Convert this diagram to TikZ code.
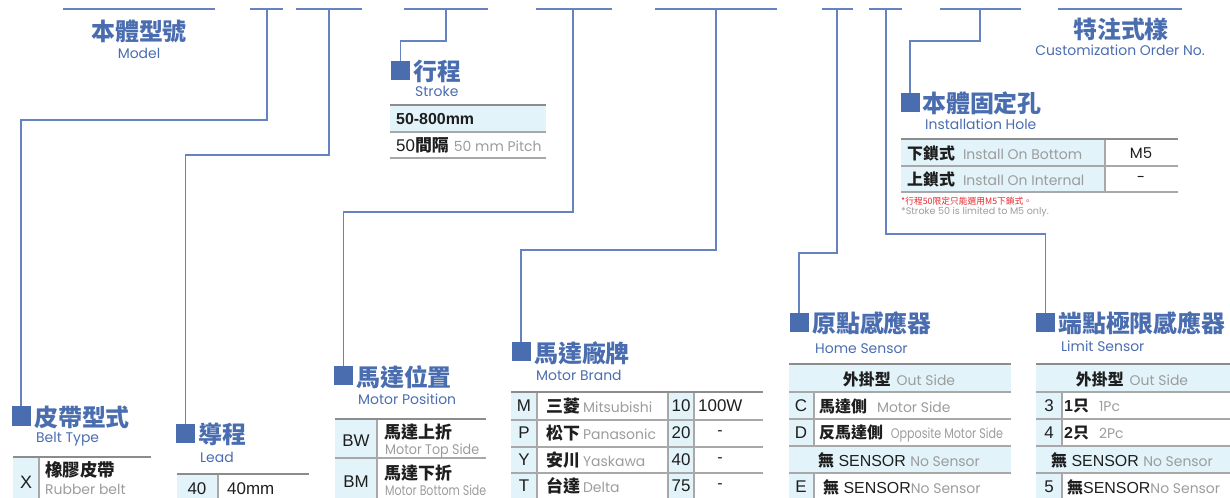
\documentclass[tikz,border=0pt]{standalone}
\usepackage{fontspec}
\usepackage{graphicx}
\setmainfont{Liberation Sans}
\newfontfamily\zhf{Noto Sans CJK TC}
\newfontfamily\enf{Poppins}
\definecolor{blueT}{HTML}{4A6DB0}
\definecolor{lineC}{HTML}{6583C0}
\definecolor{fillC}{HTML}{E2F3FA}
\definecolor{gridC}{HTML}{A8A8A8}
\definecolor{topC}{HTML}{8C8C8C}
\definecolor{grayT}{HTML}{9C9C9C}
\definecolor{blackT}{HTML}{1E1E1E}
\definecolor{redT}{HTML}{E8252B}
\newcommand\zhb[1]{{\zhf\bfseries #1}}
\newcommand\engray[1]{{\enf\mdseries\fontsize{14}{16}\selectfont\color{grayT}#1}}
\newcommand\engrayw[2]{\resizebox{#1}{\height}{\engray{#2}}}
\begin{document}
\begin{tikzpicture}[x=1bp,y=-1bp,
  sq/.style={fill=blueT,minimum size=19bp,inner sep=0pt,draw=none},
  ttl/.style={font=\zhf\bfseries\fontsize{24}{26}\selectfont,text=blueT,inner sep=0pt,anchor=west},
  ttlc/.style={font=\zhf\bfseries\fontsize{24}{26}\selectfont,text=blueT,inner sep=0pt},
  sub/.style={font=\enf\fontsize{14}{16}\selectfont,text=blueT,inner sep=0pt,anchor=west},
  subc/.style={font=\enf\fontsize{14}{16}\selectfont,text=blueT,inner sep=0pt},
  conn/.style={draw=lineC,line width=1.5bp},
  grid/.style={draw=gridC,line width=1.2bp},
  topl/.style={draw=topC,line width=1.5bp},
  cell/.style={font=\fontsize{16}{18}\selectfont,text=blackT,inner sep=0pt},
  cellw/.style={cell,anchor=west},
  zh/.style={font=\zhf\bfseries\fontsize{16}{18}\selectfont,text=blackT,inner sep=0pt,anchor=west}]
\useasboundingbox (0,0) rectangle (1230,498);

% ---------- top segments ----------
\coordinate (a1) at (63,9);   \coordinate (e1) at (215,9);
\coordinate (a2) at (250,9);  \coordinate (e2) at (283,9);  \coordinate (b2) at (267,9);
\coordinate (a3) at (296,9);  \coordinate (e3) at (362,9);  \coordinate (b3) at (329,9);
\coordinate (a4) at (404,9);  \coordinate (e4) at (488,9);  \coordinate (b4) at (446,9);
\coordinate (a5) at (536,9);  \coordinate (e5) at (612,9);  \coordinate (b5) at (573,9);
\coordinate (a6) at (655,9);  \coordinate (e6) at (777,9);  \coordinate (b6) at (716,9);
\coordinate (a7) at (822,9);  \coordinate (e7) at (853,9);  \coordinate (b7) at (837,9);
\coordinate (a8) at (869,9);  \coordinate (e8) at (902,9);  \coordinate (b8) at (886,9);
\coordinate (a9) at (940,9);  \coordinate (e9) at (1021,9); \coordinate (b9) at (980,9);
\coordinate (a10) at (1058,9); \coordinate (e10) at (1182,9);
\foreach \i in {1,...,10} {\draw[conn] (a\i) -- (e\i);}

% ---------- squares ----------
\node[sq] (sqBelt)  at (21,416) {};
\node[sq] (sqLead)  at (185.5,433.5) {};
\node[sq] (sqStroke) at (400.5,70.5) {};
\node[sq] (sqPos)   at (343.5,375.5) {};
\node[sq] (sqBrand) at (521,352) {};
\node[sq] (sqHome)  at (799,322.5) {};
\node[sq] (sqLim)   at (1045.5,322.5) {};
\node[sq] (sqInst)  at (910,102.5) {};

% ---------- connectors ----------
\draw[conn] (b2) -- ++(0,111) -| (sqBelt.north);
\draw[conn] (b3) -- ++(0,146) -| (sqLead.north);
\draw[conn] (b4) -- ++(0,32) -| (sqStroke.north);
\draw[conn] (b5) -- ++(0,203) -| (sqPos.north);
\draw[conn] (b6) -- ++(0,241) -| (sqBrand.north);
\draw[conn] (b7) -- ++(0,244) -| (sqHome.north);
\draw[conn] (b8) -- ++(0,225) -| (sqLim.north);
\draw[conn] (b9) -- ++(0,32) -| (sqInst.north);

% ---------- titles ----------
\node[ttlc] (tModel) at (139,31) {本體型號};
\node[subc] (sModel) at (139,53) {Model};
\node[ttlc] (tCust) at (1121,29) {特注式樣};
\node[subc] (sCust) at (1120,50) {Customization Order No.};
\node[ttl] (tStroke) at (413,71) {行程};
\node[sub] (sStroke) at (415,91) {Stroke};
\node[ttl] (tInst) at (922,103) {本體固定孔};
\node[sub] (sInst) at (925,124) {Installation Hole};
\node[ttl] (tBelt) at (34,417) {皮帶型式};
\node[sub] (sBelt) at (36,439) {Belt Type};
\node[ttl] (tLead) at (198,434) {導程};
\node[sub] (sLead) at (200,457) {Lead};
\node[ttl] (tPos) at (356,377) {馬達位置};
\node[sub] (sPos) at (358,399) {Motor Position};
\node[ttl] (tBrand) at (534,353) {馬達廠牌};
\node[sub] (sBrand) at (536,375) {Motor Brand};
\node[ttl] (tHome) at (812,323) {原點感應器};
\node[sub] (sHome) at (815,349) {Home Sensor};
\node[ttl] (tLim) at (1058,323) {端點極限感應器};
\node[sub] (sLim) at (1061,346) {Limit Sensor};

% ---------- stroke table ----------
\fill[fillC] (390,105) rectangle (546,132);
\draw[grid] (390,132) -- (546,132) (390,158) -- (546,158);
\draw[topl] (390,105) -- (546,105);
\node[cellw,font=\bfseries\fontsize{16}{18}\selectfont] (st1) at (396,119) {50-800mm};
\node[cellw,font=\fontsize{17}{19}\selectfont] (st2) at (396,145) {50\zhb{間隔}\hspace{5bp}\engray{50 mm Pitch}};

% ---------- installation table ----------
\fill[fillC] (901,139) rectangle (1105,192);
\draw[grid] (901,166) -- (1178,166) (901,192) -- (1178,192) (1105,139) -- (1105,192);
\draw[topl] (901,139) -- (1178,139);
\node[zh] (in1) at (907,153) {下鎖式\hspace{8bp}\engray{Install On Bottom}};
\node[zh] (in2) at (907,179) {上鎖式\hspace{8bp}\engray{Install On Internal}};
\node[cell,font=\enf\fontsize{15}{17}\selectfont] (in1v) at (1141,153) {M5};
\node[cell,font=\enf\fontsize{15}{17}\selectfont] (in2v) at (1141,179) {-};
\node[anchor=west,inner sep=0pt,text=redT,font=\zhf\fontsize{8.8}{10}\selectfont] (note1) at (901,201) {*行程50限定只能選用M5下鎖式。};
\node[anchor=west,inner sep=0pt,text=grayT,font=\enf\fontsize{9.6}{11}\selectfont] (note2) at (901,212) {*Stroke 50 is limited to M5 only.};

% ---------- belt type table ----------
\fill[fillC] (13,457) rectangle (39,498);
\draw[grid] (39,457) -- (39,498);
\draw[topl] (13,457) -- (151,457);
\node[cell,font=\fontsize{18}{20}\selectfont] (bx) at (26,482) {X};
\node[zh,font=\zhf\bfseries\fontsize{17.5}{19}\selectfont] (bz) at (45,470) {橡膠皮帶};
\node[anchor=west,inner sep=0pt] (be) at (45,489) {\engray{Rubber belt}};

% ---------- lead table ----------
\fill[fillC] (177,474) rectangle (218,498);
\draw[grid] (218,474) -- (218,498);
\draw[topl] (177,474) -- (309,474);
\node[cell,font=\fontsize{17}{19}\selectfont] (l40) at (197,489) {40};
\node[cellw,font=\fontsize{17}{19}\selectfont] (l40mm) at (227,489) {40mm};

% ---------- motor position table ----------
\fill[fillC] (335,419) rectangle (377,498);
\draw[grid] (377,419) -- (377,498) (335,458) -- (486,458);
\draw[topl] (335,419) -- (486,419);
\node[cell,font=\fontsize{17}{19}\selectfont] (pBW) at (356,441) {BW};
\node[cell,font=\fontsize{17}{19}\selectfont] (pBM) at (356,482) {BM};
\node[zh,font=\zhf\bfseries\fontsize{17}{19}\selectfont] (p1z) at (384,432) {馬達上折};
\node[anchor=west,inner sep=0pt] (p1e) at (385,451) {\engrayw{94bp}{Motor Top Side}};
\node[zh,font=\zhf\bfseries\fontsize{17}{19}\selectfont] (p2z) at (384,473) {馬達下折};
\node[anchor=west,inner sep=0pt] (p2e) at (385,490) {\engrayw{101bp}{Motor Bottom Side}};

% ---------- motor brand table ----------
\fill[fillC] (511,392) rectangle (537,498);
\fill[fillC] (668,392) rectangle (694,498);
\draw[grid] (511,420) -- (763,420) (511,447) -- (763,447) (511,473) -- (763,473)
  (537,392) -- (537,498) (668,392) -- (668,498) (694,392) -- (694,498);
\draw[topl] (511,392) -- (763,392);
\node[cell,font=\fontsize{17}{19}\selectfont] (mM) at (524,406) {M};
\node[cell,font=\fontsize{17}{19}\selectfont] (mP) at (524,433) {P};
\node[cell,font=\fontsize{17}{19}\selectfont] (mY) at (524,460) {Y};
\node[cell,font=\fontsize{17}{19}\selectfont] (mT) at (524,486) {T};
\node[zh,font=\zhf\bfseries\fontsize{17}{19}\selectfont] (m1) at (546,406) {三菱\hspace{3bp}\engray{Mitsubishi}};
\node[zh,font=\zhf\bfseries\fontsize{17}{19}\selectfont] (m2) at (546,433) {松下\hspace{3bp}\engray{Panasonic}};
\node[zh,font=\zhf\bfseries\fontsize{17}{19}\selectfont] (m3) at (546,460) {安川\hspace{3bp}\engray{Yaskawa}};
\node[zh,font=\zhf\bfseries\fontsize{17}{19}\selectfont] (m4) at (546,486) {台達\hspace{3bp}\engray{Delta}};
\node[cell,font=\fontsize{17}{19}\selectfont] (w1) at (681,406) {10};
\node[cell,font=\fontsize{17}{19}\selectfont] (w2) at (681,433) {20};
\node[cell,font=\fontsize{17}{19}\selectfont] (w3) at (681,460) {40};
\node[cell,font=\fontsize{17}{19}\selectfont] (w4) at (681,486) {75};
\node[cellw,font=\fontsize{17}{19}\selectfont] (v1) at (698,406) {100W};
\node[cell] (v2) at (720,433) {-};
\node[cell] (v3) at (720,460) {-};
\node[cell] (v4) at (720,486) {-};

% ---------- home sensor table ----------
\fill[fillC] (789,364) rectangle (1011,392);
\fill[fillC] (789,446) rectangle (1011,473);
\fill[fillC] (789,392) rectangle (814,446);
\fill[fillC] (789,473) rectangle (814,498);
\draw[grid] (789,392) -- (1011,392) (789,419) -- (1011,419) (789,446) -- (1011,446) (789,473) -- (1011,473)
  (814,392) -- (814,446) (814,473) -- (814,498);
\draw[topl] (789,364) -- (1011,364);
\node[cell] (h0) at (899,379) {\zhb{外掛型}\hspace{6bp}\engray{Out Side}};
\node[cell,font=\fontsize{17}{19}\selectfont] (hC) at (801,406) {C};
\node[zh] (h1) at (819,406) {馬達側\hspace{10bp}\engray{Motor Side}};
\node[cell,font=\fontsize{17}{19}\selectfont] (hD) at (801,433) {D};
\node[zh] (h2) at (819,433) {反馬達側\hspace{8bp}\engrayw{112bp}{Opposite Motor Side}};
\node[cell] (h3) at (899,460) {\zhb{無} SENSOR \engray{No Sensor}};
\node[cell,font=\fontsize{17}{19}\selectfont] (hE) at (801,487) {E};
\node[cellw] (h4) at (823,487) {\zhb{無} SENSOR\engray{No Sensor}};

% ---------- limit sensor table ----------
\fill[fillC] (1036,364) rectangle (1230,392);
\fill[fillC] (1036,446) rectangle (1230,473);
\fill[fillC] (1036,392) rectangle (1062,446);
\fill[fillC] (1036,473) rectangle (1062,498);
\draw[grid] (1036,392) -- (1230,392) (1036,419) -- (1230,419) (1036,446) -- (1230,446) (1036,473) -- (1230,473)
  (1062,392) -- (1062,446) (1062,473) -- (1062,498);
\draw[topl] (1036,364) -- (1230,364);
\node[cell] (g0) at (1132,379) {\zhb{外掛型}\hspace{6bp}\engray{Out Side}};
\node[cell,font=\fontsize{17}{19}\selectfont] (g3) at (1049,406) {3};
\node[cellw] (g1) at (1064,406) {\textbf{1}\zhb{只}\hspace{10bp}\engray{1Pc}};
\node[cell,font=\fontsize{17}{19}\selectfont] (g4) at (1049,433) {4};
\node[cellw] (g2) at (1064,433) {\textbf{2}\zhb{只}\hspace{10bp}\engray{2Pc}};
\node[cell] (gN) at (1132,460) {\zhb{無} SENSOR \engray{No Sensor}};
\node[cell,font=\fontsize{17}{19}\selectfont] (g5) at (1049,487) {5};
\node[cellw] (g6) at (1067,487) {\zhb{無}SENSOR\engray{No Sensor}};
\end{tikzpicture}
\end{document}
